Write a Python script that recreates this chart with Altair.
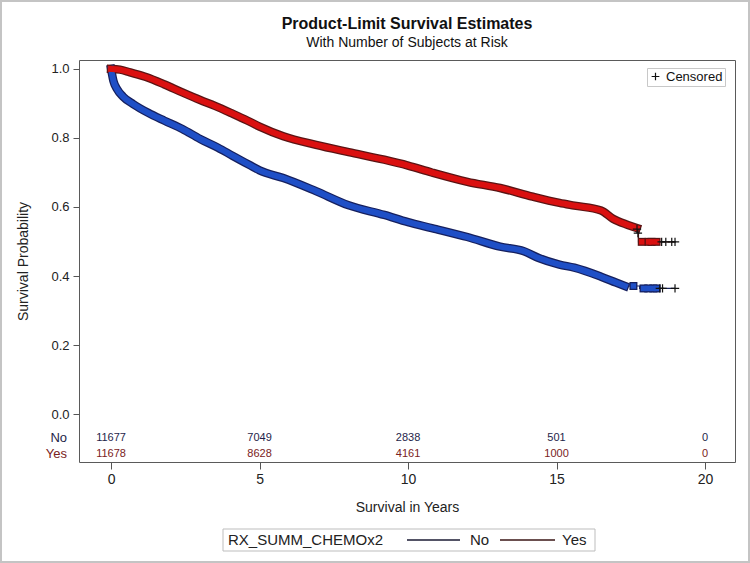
import altair as alt
import pandas as pd

FONT = "Liberation Sans"

# Kaplan-Meier estimates (years, survival) for each treatment group
no_time = [0, 0.08, 0.2, 0.4, 0.75, 1.25, 1.8, 2.4, 3.0, 3.6, 4.1, 4.7, 5.0, 5.8, 6.9,
           8.0, 9.2, 10.0, 10.8, 12.0, 13.1, 13.9, 14.4, 15.1, 15.6, 16.5, 17.0, 17.3]
no_surv = [1.0, 0.965, 0.942, 0.92, 0.898, 0.873, 0.85, 0.826, 0.797, 0.772, 0.748, 0.72,
           0.706, 0.684, 0.646, 0.605, 0.577, 0.556, 0.539, 0.513, 0.485, 0.472, 0.452,
           0.433, 0.424, 0.398, 0.381, 0.371]
yes_time = [0, 0.3, 0.64, 1.2, 1.8, 2.4, 3.0, 3.5, 4.1, 4.6, 5.0, 5.8, 6.9, 8.0, 9.2,
            10.0, 10.8, 12.0, 13.1, 14.2, 15.1, 15.6, 16.5, 16.9, 17.4, 17.7]
yes_surv = [1.0, 0.998, 0.99, 0.976, 0.955, 0.932, 0.91, 0.893, 0.87, 0.85, 0.833, 0.805,
            0.78, 0.759, 0.737, 0.72, 0.70, 0.673, 0.655, 0.63, 0.612, 0.604, 0.59, 0.566,
            0.548, 0.539]

# sparse tail of each curve
no_tail_time = [17.6, 17.8, 18.99]
no_tail_surv = [0.371, 0.364, 0.364]
yes_tail_time = [17.73, 17.76, 18.99]
yes_tail_surv = [0.527, 0.499, 0.499]

# isolated event markers in the tail
no_event_time = [17.59, 17.93, 18.09, 18.26, 18.37]
no_event_surv = [0.371, 0.364, 0.364, 0.364, 0.364]
yes_event_time = [17.87, 18.1, 18.2, 18.37]
yes_event_surv = [0.499, 0.499, 0.499, 0.499]

# censored observations
no_cens_time = [18.48, 18.57, 18.99]
no_cens_surv = [0.364, 0.364, 0.364]
yes_cens_time = [17.71, 17.74, 18.54, 18.68, 18.88, 18.99]
yes_cens_surv = [0.536, 0.524, 0.499, 0.499, 0.499, 0.499]

# number at risk
risk_times = [0, 5, 10, 15, 20]
risk_no = [11677, 7049, 2838, 501, 0]
risk_yes = [11678, 8628, 4161, 1000, 0]

groups = ["No", "Yes"]
dark = ["#16205e", "#5a1414"]
bright = ["#1f4fc6", "#da1010"]
risk_color = {"No": "#1e1e4a", "Yes": "#7a2222"}
legend_line = {"No": "#1a1a33", "Yes": "#3a1414"}


def frame(times, surv, group):
    return pd.DataFrame({"time": times, "surv": surv, "group": group})


band = pd.concat([frame(no_time, no_surv, "No"), frame(yes_time, yes_surv, "Yes")])
tail = pd.concat([
    frame(no_time[-1:] + no_tail_time, no_surv[-1:] + no_tail_surv, "No"),
    frame(yes_time[-1:] + yes_tail_time, yes_surv[-1:] + yes_tail_surv, "Yes"),
])
events = pd.concat([frame(no_event_time, no_event_surv, "No"),
                    frame(yes_event_time, yes_event_surv, "Yes")])
cens = pd.concat([frame(no_cens_time, no_cens_surv, "No"),
                  frame(yes_cens_time, yes_cens_surv, "Yes")])
cens["kind"] = "Censored"

W, H = 656, 402
X_DOM = [-1.08, 21.01]
Y_DOM = [-0.139, 1.026]

x_enc = alt.X("time:Q", scale=alt.Scale(domain=X_DOM, nice=False, zero=False),
              axis=alt.Axis(values=[0, 5, 10, 15, 20], title="Survival in Years",
                            labelFontSize=14, titleFontSize=14, tickSize=7,
                            labelPadding=3, titlePadding=14))
y_enc = alt.Y("surv:Q", scale=alt.Scale(domain=Y_DOM, nice=False, zero=False),
              axis=alt.Axis(values=[0, 0.2, 0.4, 0.6, 0.8, 1.0], format=".1f",
                            title="Survival Probability", labelFontSize=13,
                            titleFontSize=14, tickSize=6, labelPadding=4,
                            titlePadding=20))

dark_color = alt.Color("group:N", scale=alt.Scale(domain=groups, range=dark),
                       legend=None)
bright_stroke = alt.Stroke("group:N", scale=alt.Scale(domain=groups, range=bright),
                           legend=None)
bright_fill = alt.Fill("group:N", scale=alt.Scale(domain=groups, range=bright),
                       legend=None)

one = pd.DataFrame({"k": [0]})

# light outer border of the figure
border = alt.Chart(one).mark_rect(
    fill="white", fillOpacity=0, stroke="#c4c4c4", strokeWidth=2
).encode(x=alt.value(-78), x2=alt.value(670), y=alt.value(-59), y2=alt.value(502))

tail_line = alt.Chart(tail).mark_line(interpolate="step-after", strokeWidth=1.2).encode(
    x=x_enc, y=y_enc, color=dark_color, detail="group:N")

band_edge = alt.Chart(band).mark_line(strokeWidth=8.5, strokeCap="square",
                                      interpolate="monotone").encode(
    x=x_enc, y=y_enc, color=dark_color)
band_core = alt.Chart(band).mark_line(strokeWidth=6, strokeCap="square",
                                      interpolate="monotone").encode(
    x=x_enc, y=y_enc, stroke=bright_stroke)

event_edge = alt.Chart(events).mark_square(size=64, opacity=1).encode(
    x=x_enc, y=y_enc, color=dark_color)
event_core = alt.Chart(events).mark_square(size=30, opacity=1, filled=True).encode(
    x=x_enc, y=y_enc, fill=bright_fill)

PLUS = "M-1,0L1,0M0,-1L0,1"
cens_marks = alt.Chart(cens).mark_point(filled=False, strokeWidth=1.2, opacity=1,
                                        size=70, stroke="#111").encode(
    x=x_enc, y=y_enc,
    shape=alt.Shape("kind:N", scale=alt.Scale(domain=["Censored"], range=[PLUS]),
                    legend=alt.Legend(title=None, orient="none", legendX=568, legendY=8,
                                      symbolStrokeColor="#111", symbolSize=60,
                                      symbolStrokeWidth=1.2, labelFontSize=13,
                                      labelFont=FONT, labelColor="#111",
                                      strokeColor="#c8c8c8", fillColor="white",
                                      padding=2, labelOffset=4)),
)

risk = pd.DataFrame({
    "time": risk_times * 2,
    "n": risk_no + risk_yes,
    "group": ["No"] * 5 + ["Yes"] * 5,
})
ROW_Y = {"No": 378, "Yes": 394}

risk_layers = []
for g in groups:
    risk_layers.append(
        alt.Chart(risk[risk["group"] == g]).mark_text(
            fontSize=11, font=FONT, color=risk_color[g], baseline="middle"
        ).encode(x=x_enc, y=alt.value(ROW_Y[g]), text="n:Q")
    )
    risk_layers.append(
        alt.Chart(pd.DataFrame({"label": [g]})).mark_text(
            fontSize=13, font=FONT, color=risk_color[g], align="right", baseline="middle"
        ).encode(x=alt.value(-12), y=alt.value(ROW_Y[g]), text="label:N")
    )

# group legend below the axis: framed box, title, line samples and labels
LEG_Y = 480
legend_box = alt.Chart(one).mark_rect(
    fill="white", stroke="#bdbdbd", strokeWidth=1
).encode(x=alt.value(144), x2=alt.value(516), y=alt.value(469), y2=alt.value(491))
legend_title = alt.Chart(pd.DataFrame({"t": ["RX_SUMM_CHEMOx2"]})).mark_text(
    fontSize=15, font=FONT, color="#222", align="left", baseline="middle"
).encode(x=alt.value(149), y=alt.value(LEG_Y), text="t:N")
legend_parts = [legend_box, legend_title]
for g, (x0, x1, xl) in zip(groups, [(328, 381, 391), (421, 476, 483)]):
    legend_parts.append(
        alt.Chart(one).mark_rule(color=legend_line[g], strokeWidth=1.3).encode(
            x=alt.value(x0), x2=alt.value(x1), y=alt.value(LEG_Y))
    )
    legend_parts.append(
        alt.Chart(pd.DataFrame({"t": [g]})).mark_text(
            fontSize=15, font=FONT, color="#222", align="left", baseline="middle"
        ).encode(x=alt.value(xl), y=alt.value(LEG_Y), text="t:N")
    )

chart = alt.layer(
    border, tail_line, band_edge, band_core, event_edge, event_core, cens_marks,
    *risk_layers, *legend_parts
).properties(
    width=W, height=H,
    title=alt.TitleParams("Product-Limit Survival Estimates",
                          subtitle="With Number of Subjects at Risk", dy=54),
    autosize=alt.AutoSizeParams(type="none"),
    padding={"left": 79, "top": 60, "right": 15, "bottom": 101},
).configure_view(
    stroke="#5a5a5a", strokeWidth=1
).configure_axis(
    grid=False, domain=False, labelFont=FONT, titleFont=FONT, labelColor="#222",
    titleColor="#222", tickColor="#555", titleFontWeight="normal"
).configure_title(
    font=FONT, fontSize=16, fontWeight="bold", color="#111", anchor="middle",
    frame="group", offset=0, subtitleFont=FONT, subtitleFontSize=14,
    subtitleColor="#111", subtitlePadding=4
)

chart.save("out.html", embed_options={"renderer": "svg", "actions": False})
